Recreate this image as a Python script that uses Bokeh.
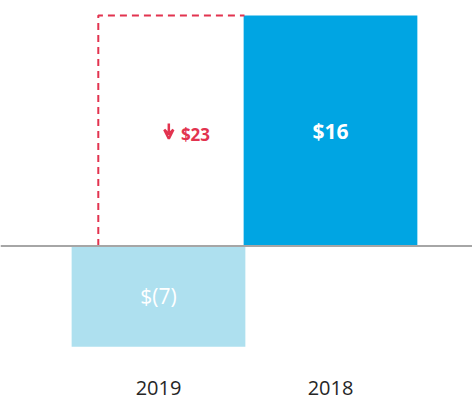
from bokeh.plotting import figure
from bokeh.models import Range1d, Span, Arrow, VeeHead
from bokeh.core.properties import value
from bokeh.embed import file_html
from bokeh.resources import INLINE

# Data
categories = ["2019", "2018"]
values = [-7, 16]
labels = ["$(7)", "$16"]
label_weights = ["normal", "bold"]
bar_colors = ["#AEE0EF", "#00A5E3"]
delta = values[1] - values[0]
delta_label = "$" + str(delta)

xs = list(range(len(categories)))
RED = "#E2334F"

p = figure(width=472, height=401, output_backend="svg", toolbar_location=None,
           x_range=Range1d(-0.9186, 1.8256), y_range=Range1d(-10.80, 17.05),
           min_border=0, min_border_left=0, min_border_right=0,
           min_border_top=0, min_border_bottom=0)
p.axis.visible = False
p.grid.visible = False
p.outline_line_color = None
p.background_fill_color = "white"

# bars
p.vbar(x=xs, top=values, bottom=0, width=1.01, color=bar_colors, line_color=None)

# dashed reference box (prior year level carried over)
box_left = xs[0] - 0.35
box_right = xs[1] - 0.5
p.line(x=[box_left, box_left, box_right], y=[0, values[1], values[1]],
       line_color=RED, line_width=2, line_dash="7 5")

# zero line
p.add_layout(Span(location=0, dimension="width", line_color="#A6A6A6", line_width=2))

font = value("Open Sans")

# value labels
for x, v, lab, w in zip(xs, values, labels, label_weights):
    p.text(x=[x], y=[v / 2], text=[lab], text_color="white",
           text_font=font, text_font_size="21px", text_font_style=w,
           text_align="center", text_baseline="middle")

# delta arrow + label
p.add_layout(Arrow(x_start=0.06, y_start=values[1] / 2 + 0.5,
                   x_end=0.06, y_end=values[1] / 2 - 0.55,
                   line_color=RED, line_width=2.5,
                   end=VeeHead(size=9, line_color=RED, line_width=2.5, fill_color=None)))
p.text(x=[0.215], y=[values[1] / 2 - 0.25], text=[delta_label], text_color=RED,
       text_font=font, text_font_size="17px", text_font_style="bold",
       text_align="center", text_baseline="middle")

# category labels
p.text(x=xs, y=[-9.83] * len(xs), text=categories, text_color="#262626",
       text_font=font, text_font_size="20px",
       text_align="center", text_baseline="middle")

open("out.html", "w").write(file_html(p, INLINE))
